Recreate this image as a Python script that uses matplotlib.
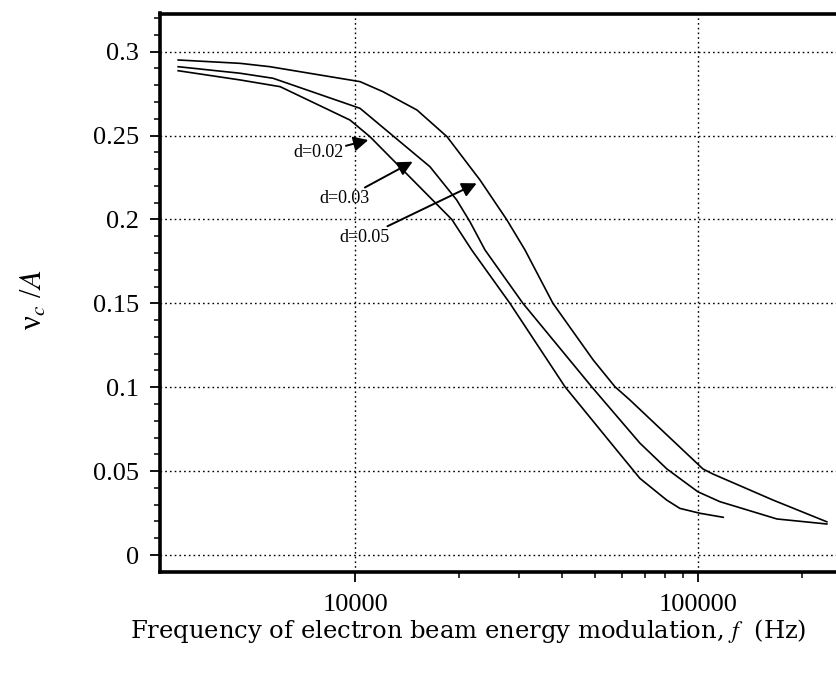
import numpy as np
import matplotlib
matplotlib.use("Agg")
import matplotlib.pyplot as plt
from matplotlib.ticker import FixedLocator, NullFormatter

# Datos (frecuencia en Hz, nu_c / A)
freq_d002 = [3040, 4610, 6030, 9640, 11020, 19110, 21820, 28210, 40820,
             57740, 67510, 80770, 88310, 101000, 118100]
nu_d002 = [0.2886, 0.2831, 0.2791, 0.2592, 0.2493, 0.1999, 0.1818, 0.1500,
           0.1003, 0.0626, 0.0457, 0.0328, 0.0278, 0.0249, 0.0225]

freq_d003 = [3040, 4610, 5750, 10310, 12950, 16490, 19730, 21570, 23860,
             30780, 48830, 52680, 67510, 80930, 99650, 115550, 169400, 236900]
nu_d003 = [0.2910, 0.2871, 0.2841, 0.2662, 0.2493, 0.2314, 0.2116, 0.1986,
           0.1818, 0.1500, 0.1003, 0.0924, 0.0667, 0.0513, 0.0377, 0.0318,
           0.0215, 0.0185]

freq_d005 = [3040, 4610, 5630, 10310, 12030, 15110, 18490, 23070, 27600,
             31210, 37650, 49360, 57100, 63140, 77230, 103100, 110200,
             164900, 236900]
nu_d005 = [0.2950, 0.2930, 0.2910, 0.2821, 0.2761, 0.2652, 0.2493, 0.2235,
           0.1999, 0.1818, 0.1500, 0.1162, 0.1003, 0.0924, 0.0755, 0.0513,
           0.0483, 0.0328, 0.0198]

y_ticks = [0, 0.05, 0.1, 0.15, 0.2, 0.25, 0.3]
y_tick_labels = ["0", "0.05", "0.1", "0.15", "0.2", "0.25", "0.3"]
x_ticks = [10000, 100000]
x_tick_labels = ["10000", "100000"]

etiquetas = ["d=0.02", "d=0.03", "d=0.05"]

plt.rcParams['font.family'] = ['Liberation Serif', 'DejaVu Serif']
plt.rcParams['mathtext.fontset'] = 'stix'

fig = plt.figure(figsize=(8.37, 6.75), dpi=100)
ax = fig.add_axes([0.1912, 0.1526, 0.8088, 0.8274])

# Curvas
for f, v in [(freq_d002, nu_d002), (freq_d003, nu_d003), (freq_d005, nu_d005)]:
    ax.plot(f, v, color='black', lw=1.2, solid_joinstyle='round')

ax.set_xscale('log')
ax.set_xlim(2692, 253600)
ax.set_ylim(-0.0101, 0.3227)

# Ejes y marcas
ax.xaxis.set_major_locator(FixedLocator(x_ticks))
ax.set_xticklabels(x_tick_labels)
ax.xaxis.set_minor_locator(FixedLocator(
    [20000, 30000, 40000, 50000, 60000, 70000, 80000, 90000, 200000]))
ax.xaxis.set_minor_formatter(NullFormatter())
ax.set_yticks(y_ticks)
ax.set_yticklabels(y_tick_labels)
ax.set_yticks(np.arange(0, 0.321, 0.01), minor=True)

ax.tick_params(which='major', direction='out', length=7, width=1.3,
               labelsize=19, pad=8)
ax.tick_params(which='minor', direction='out', length=4, width=1.1)
ax.tick_params(axis='x', which='major', pad=9)

for lado in ['left', 'top', 'bottom']:
    ax.spines[lado].set_linewidth(2.6)
ax.spines['right'].set_visible(False)

ax.grid(True, which='major', color='black', lw=1.0, linestyle=(0, (1.2, 2.2)))

# Anotaciones con flechas
flecha = dict(arrowstyle='-|>', color='black', lw=1.4, mutation_scale=22,
              shrinkA=0, shrinkB=0)
ax.annotate(etiquetas[0], xy=(10900, 0.2473), xytext=(7777, 0.2396),
            ha='center', va='center', fontsize=13, arrowprops=flecha)
ax.annotate(etiquetas[1], xy=(14680, 0.2344), xytext=(9260, 0.2123),
            ha='center', va='center', fontsize=13, arrowprops=flecha)
ax.annotate(etiquetas[2], xy=(22560, 0.2215), xytext=(10590, 0.1892),
            ha='center', va='center', fontsize=13, arrowprops=flecha)

ax.set_xlabel('Frequency of electron beam energy modulation, $f$  (Hz)',
              fontsize=17.5, family=['DejaVu Serif'])
ax.xaxis.set_label_coords(0.456, -0.08)
ax.set_ylabel(r'ν$_c$ /$A$', fontsize=22)
ax.yaxis.set_label_coords(-0.165, 0.487)

fig.savefig('out.png', dpi=100)
